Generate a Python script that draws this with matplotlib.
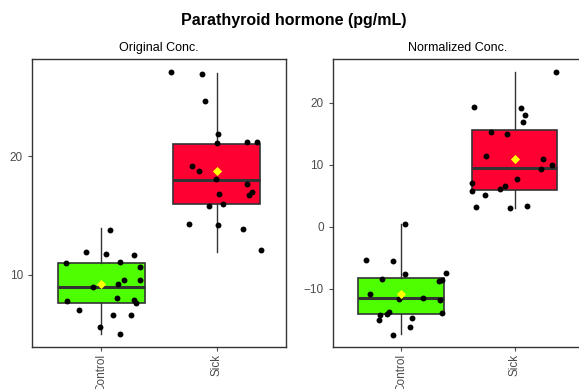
"""Parathyroid hormone boxplots: original vs normalized concentration."""

import numpy as np
import matplotlib
matplotlib.use('Agg')
import matplotlib.pyplot as plt

plt.rcParams['font.family'] = ['Liberation Sans', 'DejaVu Sans']

groups = ['Control', 'Sick']
group_colors = ['#4DFF00', '#FF0033']

# original concentration: observed points and their jitter offsets
orig_control = [13.82, 11.94, 11.74, 11.66, 10.99, 11.12, 10.67, 9.60, 9.60, 9.27,
                8.96, 7.78, 8.06, 7.87, 7.64, 7.05, 6.60, 6.60, 5.62, 5.03]
orig_control_jit = [0.075, -0.136, 0.037, 0.282, -0.308, 0.161, 0.331, 0.195, 0.339, 0.149,
                    -0.075, -0.294, 0.136, 0.282, 0.300, -0.193, 0.101, 0.256, -0.011, 0.158]
orig_sick = [27.10, 26.93, 24.68, 21.85, 21.15, 21.18, 21.18, 19.21, 18.79, 18.06,
             17.64, 17.02, 16.71, 16.80, 16.01, 15.81, 14.30, 14.24, 13.88, 12.13]
orig_sick_jit = [-0.395, -0.127, -0.104, 0.014, 0.000, 0.259, 0.351, -0.216, -0.156, -0.003,
                 0.259, 0.308, 0.277, 0.022, 0.051, -0.069, -0.239, 0.014, 0.228, 0.380]

# normalized concentration
norm_control = [0.43, -5.31, -5.58, -7.62, -7.41, -8.48, -8.70, -8.64, -10.79, -11.59,
                -11.49, -11.86, -14.22, -13.80, -14.06, -13.85, -14.76, -15.08, -16.21, -17.39]
norm_control_jit = [0.035, -0.308, -0.070, 0.033, 0.393, -0.167, 0.334, 0.358, -0.270, -0.020,
                    0.191, 0.343, -0.182, -0.106, -0.120, 0.358, 0.097, -0.191, 0.076, -0.070]
norm_sick = [24.96, 19.27, 19.05, 17.92, 16.91, 15.25, 14.98, 11.38, 10.84, 9.87,
             9.23, 7.68, 7.04, 5.75, 6.60, 6.12, 5.04, 3.17, 3.01, 3.27]
norm_sick_jit = [0.360, -0.356, 0.053, 0.093, 0.076, -0.208, -0.070, -0.255, 0.249, 0.328,
                 0.229, 0.018, -0.378, -0.378, -0.083, -0.132, -0.259, -0.343, -0.039, 0.105]

# box stats: whislo, q1, med, q3, whishi, mean
orig_stats = [(5.03, 7.67, 8.99, 11.01, 13.98, 9.22),
              (11.96, 15.98, 18.00, 21.01, 27.00, 18.76)]
norm_stats = [(-17.28, -14.12, -11.43, -8.32, 0.43, -10.84),
              (3.00, 5.96, 9.50, 15.62, 24.85, 10.90)]

panels = [
    ('Original Conc.', orig_stats, [(orig_control, orig_control_jit), (orig_sick, orig_sick_jit)],
     (3.93, 28.2), [10, 20], [0.0553, 0.108, 0.4387, 0.740]),
    ('Normalized Conc.', norm_stats, [(norm_control, norm_control_jit), (norm_sick, norm_sick_jit)],
     (-19.37, 27.0), [-10, 0, 10, 20], [0.5746, 0.108, 0.4321, 0.740]),
]

fig = plt.figure(figsize=(5.79, 3.89), dpi=100)
fig.text(0.508, 0.948, 'Parathyroid hormone (pg/mL)', ha='center', va='center',
         fontsize=11.5, fontweight='bold')

edge = '#333333'
for title, stats, points, ylim, yticks, pos in panels:
    ax = fig.add_axes(pos)
    bstats = []
    for lab, (lo, q1, med, q3, hi, mn) in zip(groups, stats):
        bstats.append(dict(label=lab, whislo=lo, q1=q1, med=med, q3=q3, whishi=hi, mean=mn))
    bp = ax.bxp(bstats, positions=[1, 2], widths=0.75, patch_artist=True, showfliers=False,
                showcaps=False, showmeans=False,
                boxprops=dict(edgecolor=edge, linewidth=1.2),
                whiskerprops=dict(color=edge, linewidth=1.0),
                medianprops=dict(color=edge, linewidth=2.2))
    for patch, col in zip(bp['boxes'], group_colors):
        patch.set_facecolor(col)

    for i, (vals, jit) in enumerate(points):
        xs = np.array(jit) + i + 1
        ax.scatter(xs, vals, s=18, color='black', zorder=4, linewidths=0)
    means = [s[5] for s in stats]
    ax.scatter([1, 2], means, marker='D', s=22, color='#FFFF00', zorder=5, linewidths=0)

    ax.set_xlim(0.4, 2.6)
    ax.set_ylim(*ylim)
    ax.set_yticks(yticks)
    ax.set_xticks([1, 2])
    ax.set_xticklabels(groups, rotation=90, va='top', ha='center')
    ax.set_title(title, fontsize=9, pad=6)
    for sp in ax.spines.values():
        sp.set_color(edge)
        sp.set_linewidth(1.0)
    ax.tick_params(colors='#4D4D4D', labelsize=8.5, length=3, width=0.8)
    ax.tick_params(axis='x', pad=2)

fig.savefig('out.png', dpi=100)
